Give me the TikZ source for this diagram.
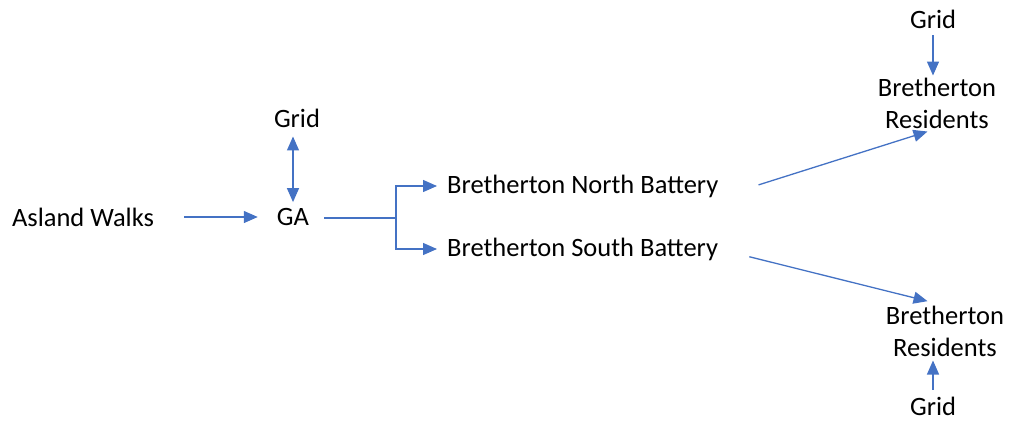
\documentclass[tikz,border=0pt]{standalone}
\usepackage{fontspec}
\setmainfont{Carlito}
\usetikzlibrary{positioning}
\usetikzlibrary{arrows.meta}
\definecolor{flowblue}{HTML}{4472C4}

\begin{document}
\begin{tikzpicture}[
        x=1pt, y=-1pt,
        label/.style={inner sep=0pt, font=\fontsize{26.5}{32}\selectfont, align=center},
        flow/.style={draw=flowblue, line width=1.3pt, -{Triangle[length=14pt,width=12pt]}},
        flowboth/.style={draw=flowblue, line width=1.3pt, {Triangle[length=14pt,width=12pt]}-{Triangle[length=14pt,width=12pt]}},
        plain/.style={draw=flowblue, line width=1.3pt},
    ]
    \useasboundingbox (0,0) rectangle (1011,421);

    % Objects
    \node[label] (asland) at (83,217) {Asland Walks};
    \node[label] (ga) at (293,217) {GA};
    \node[label] (gagrid) at (297,118) {Grid};
    \node[label, anchor=west] (north) at (447,186) {Bretherton North Battery};
    \node[label, anchor=west] (south) at (447,249) {Bretherton South Battery};
    \node[label] (topgrid) at (933,19) {Grid};
    \node[label] (topres) at (937,103) {Bretherton\\Residents};
    \node[label] (botres) at (945,331) {Bretherton\\Residents};
    \node[label] (botgrid) at (933,406) {Grid};
    \coordinate (split) at (396,218);

    % Lines
    \draw[flow, shorten <=30pt, shorten >=19pt] (asland) -- (ga);
    \draw[flowboth, shorten <=9pt, shorten >=6pt] (gagrid.south -| ga.north) -- (ga.north);
    \draw[plain, shorten <=15pt] (ga.east |- split) -- (split);
    \draw[flow, shorten >=10pt] (split) |- (north.west);
    \draw[flow, shorten >=10pt] (split) |- (south.west);
    \draw[flow, shorten <=42pt, shorten >=10pt] (north.south east) -- (topres.south);
    \draw[flow, shorten <=32pt, shorten >=18pt] (south.east) -- (botres.north);
    \draw[flow, shorten <=7pt, shorten >=2pt] (topgrid.south) -- (topgrid.south |- topres.north);
    \draw[flow, shorten <=7pt, shorten >=4pt] (botgrid.north) -- (botgrid.north |- botres.south);

\end{tikzpicture}
\end{document}
